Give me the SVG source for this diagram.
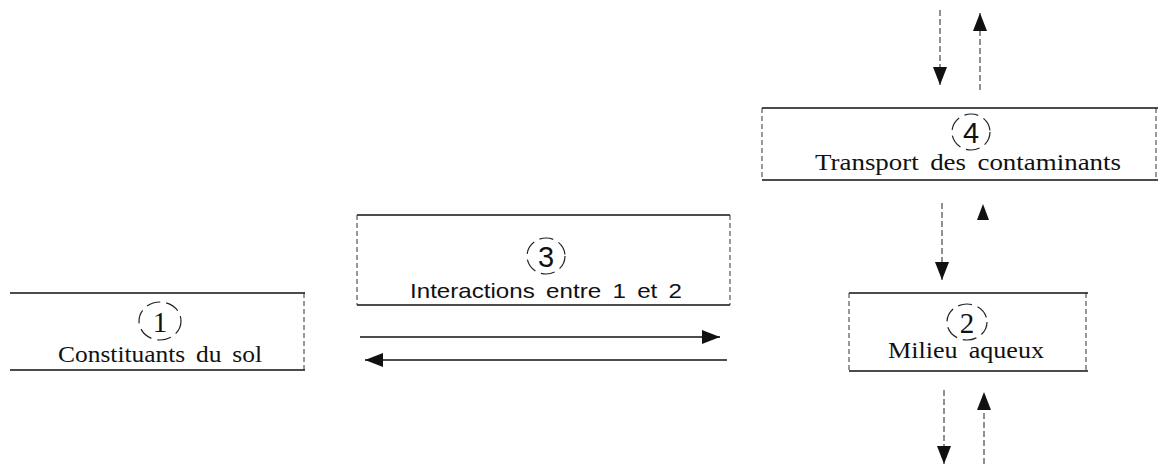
<svg xmlns="http://www.w3.org/2000/svg" width="1160" height="464" viewBox="0 0 1160 464">
<style>
.bg{fill:#fff}
.hline{stroke:#111;stroke-width:1.5;fill:none}
.vside{stroke:#333;stroke-width:1;stroke-dasharray:5 3;fill:none}
.circ{stroke:#222;stroke-width:1.2;stroke-dasharray:14 6;fill:none}
.serif{font-family:"Liberation Serif","Times New Roman",serif;fill:#111;text-anchor:middle}
.sans{font-family:"Liberation Sans",Arial,sans-serif;fill:#111;text-anchor:middle}
.lbl{font-size:23px;word-spacing:4px}
.slbl{font-size:21px;word-spacing:4px}
.num{font-size:29px}
.conn{stroke:#111;stroke-width:1.5;fill:none}
.dconn{stroke:#222;stroke-width:1;stroke-dasharray:6 3;fill:none}
.head{fill:#111}
</style>
<defs>
<marker id="ah" markerUnits="userSpaceOnUse" markerWidth="18" markerHeight="14" refX="18" refY="7" orient="auto">
<path d="M0,0 L18,7 L0,14 Z" class="head"/>
</marker>
</defs>
<rect class="bg" x="0" y="0" width="1160" height="464"/>

<g id="node1">
<line class="hline" x1="10" y1="293" x2="305" y2="293"/>
<line class="hline" x1="10" y1="370" x2="305" y2="370"/>
<line class="vside" x1="304" y1="293" x2="304" y2="370"/>
<ellipse class="circ" cx="160" cy="321" rx="21" ry="19"/>
<text class="serif num" x="160" y="332">1</text>
<text class="serif lbl" x="160" y="362" textLength="204" lengthAdjust="spacingAndGlyphs">Constituants du sol</text>
</g>

<g id="node3">
<line class="hline" x1="357" y1="215" x2="730" y2="215"/>
<line class="hline" x1="357" y1="305" x2="730" y2="305"/>
<line class="vside" x1="357" y1="215" x2="357" y2="305"/>
<line class="vside" x1="730" y1="215" x2="730" y2="305"/>
<ellipse class="circ" cx="546" cy="256" rx="19" ry="18"/>
<text class="sans num" x="546" y="267">3</text>
<text class="sans slbl" x="546" y="298" textLength="272" lengthAdjust="spacingAndGlyphs">Interactions entre 1 et 2</text>
</g>

<g id="node4">
<line class="hline" x1="762" y1="108" x2="1158" y2="108"/>
<line class="hline" x1="762" y1="180" x2="1158" y2="180"/>
<line class="vside" x1="762" y1="108" x2="762" y2="180"/>
<line class="vside" x1="1156" y1="108" x2="1156" y2="180"/>
<ellipse class="circ" cx="971" cy="132" rx="19" ry="18"/>
<text class="sans num" x="971" y="143">4</text>
<text class="serif lbl" x="968" y="170" textLength="306" lengthAdjust="spacingAndGlyphs">Transport des contaminants</text>
</g>

<g id="node2">
<line class="hline" x1="849" y1="293" x2="1088" y2="293"/>
<line class="hline" x1="849" y1="371" x2="1088" y2="371"/>
<line class="vside" x1="849" y1="293" x2="849" y2="371"/>
<line class="vside" x1="1086" y1="293" x2="1086" y2="371"/>
<ellipse class="circ" cx="967" cy="322" rx="20" ry="18"/>
<text class="serif num" x="967" y="333">2</text>
<text class="serif lbl" x="966" y="358" textLength="156" lengthAdjust="spacingAndGlyphs">Milieu aqueux</text>
</g>

<g id="connectors">
<line class="conn" x1="360" y1="337" x2="720" y2="337" marker-end="url(#ah)"/>
<line class="conn" x1="727" y1="360" x2="365" y2="360" marker-end="url(#ah)"/>
<line class="dconn" x1="940" y1="10" x2="940" y2="85" marker-end="url(#ah)"/>
<line class="dconn" x1="980" y1="90" x2="980" y2="13" marker-end="url(#ah)"/>
<line class="dconn" x1="942" y1="203" x2="942" y2="280" marker-end="url(#ah)"/>
<path class="head" d="M977,220 L983,204 L989,220 Z"/>
<line class="dconn" x1="944" y1="390" x2="944" y2="464" marker-end="url(#ah)"/>
<line class="dconn" x1="984" y1="464" x2="984" y2="392" marker-end="url(#ah)"/>
</g>
</svg>
